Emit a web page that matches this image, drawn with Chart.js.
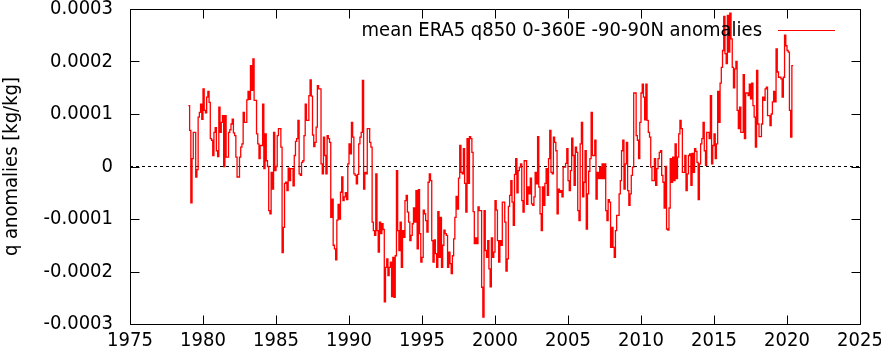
<!DOCTYPE html>
<html><head><meta charset="utf-8">
<script src="https://cdn.jsdelivr.net/npm/chart.js@4.4.0/dist/chart.umd.min.js"></script>
<style>html,body{margin:0;padding:0;background:#fff}#wrap{width:881px;height:354px;position:relative}</style>
</head><body><div id="wrap"><canvas id="c" width="881" height="354"></canvas></div>
<script>
// Monthly anomalies [kg/kg], one row per year, starting January 1979
const startYear = 1979;
const anom1979to1987 = [
 1.16e-4,1.16e-4,0.69e-4,-0.69e-4,0.15e-4,0.65e-4,0.65e-4,-0.2e-4,-0.06e-4,0.94e-4,1.03e-4,1.19e-4,
 0.9e-4,1.48e-4,1.07e-4,1.02e-4,1.32e-4,1.43e-4,1.22e-4,0.53e-4,0.5e-4,0.21e-4,0.65e-4,0.74e-4,
 0.3e-4,0.19e-4,1.13e-4,0.65e-4,0.84e-4,0.97e-4,0.0,0.97e-4,0.18e-4,0.18e-4,0.65e-4,0.7e-4,
 0.81e-4,0.9e-4,0.64e-4,0.59e-4,0.18e-4,-0.2e-4,-0.2e-4,0.18e-4,0.37e-4,0.43e-4,1.03e-4,0.84e-4,
 0.84e-4,1.27e-4,1.43e-4,1.28e-4,1.92e-4,1.45e-4,2.05e-4,1.26e-4,1.26e-4,0.62e-4,0.43e-4,0.15e-4,
 0.4e-4,0.4e-4,1.19e-4,-0.04e-4,0.62e-4,0.11e-4,0.0,-0.84e-4,-0.9e-4,-0.11e-4,-0.43e-4,0.65e-4,
 -0.08e-4,0.0,0.59e-4,0.72e-4,0.72e-4,0.37e-4,-1.64e-4,-1.16e-4,-0.32e-4,-0.3e-4,-0.46e-4,-0.03e-4,
 -0.27e-4,-0.04e-4,-0.04e-4,-0.37e-4,0.21e-4,0.48e-4,0.53e-4,0.88e-4,-0.14e-4,-0.17e-4,0.08e-4,0.11e-4,
 0.59e-4,1.19e-4,0.88e-4,0.88e-4,1.35e-4,1.65e-4,1.34e-4,0.6e-4,0.38e-4,0.46e-4,0.75e-4,1.54e-4
];
const anom1988to1996 = [
 1.48e-4,1.48e-4,0.05e-4,-0.14e-4,0.56e-4,0.21e-4,-0.14e-4,0.59e-4,0.53e-4,0.46e-4,-0.97e-4,-0.62e-4,
 -1.5e-4,-1.57e-4,-1.78e-4,-1.02e-4,-0.72e-4,-1.0e-4,-0.49e-4,-0.2e-4,-0.65e-4,-0.58e-4,-0.5e-4,-0.63e-4,
 0.05e-4,0.43e-4,0.24e-4,0.84e-4,0.56e-4,-0.14e-4,-0.17e-4,-0.33e-4,-0.15e-4,0.43e-4,0.56e-4,0.65e-4,
 1.64e-4,-0.43e-4,-0.11e-4,-0.14e-4,0.72e-4,0.72e-4,0.46e-4,0.37e-4,-1.06e-4,-1.22e-4,-1.31e-4,-0.14e-4,
 -1.22e-4,-1.63e-4,-1.06e-4,-1.28e-4,-1.09e-4,-1.2e-4,-2.58e-4,-1.92e-4,-1.76e-4,-2.08e-4,-1.92e-4,-1.82e-4,
 -2.48e-4,-1.73e-4,-2.49e-4,-1.7e-4,-0.08e-4,-1.22e-4,-1.6e-4,-1.06e-4,-1.92e-4,-1.22e-4,-1.35e-4,-0.65e-4,
 -0.55e-4,-0.87e-4,-1.06e-4,-1.41e-4,-1.31e-4,-1.09e-4,-0.79e-4,-1.06e-4,-0.46e-4,-1.57e-4,-0.44e-4,-1.28e-4,
 -1.82e-4,-1.73e-4,-0.83e-4,-0.9e-4,-1.03e-4,-1.25e-4,-0.3e-4,-0.14e-4,-0.27e-4,-1.41e-4,-1.82e-4,-1.4e-4,
 -1.66e-4,-1.92e-4,-0.86e-4,-1.73e-4,-0.97e-4,-1.92e-4,-1.5e-4,-1.21e-4,-1.28e-4,-1.31e-4,-1.92e-4,-1.63e-4
];
const anom1997to2005 = [
 -1.85e-4,-2.04e-4,-1.7e-4,-1.38e-4,-0.97e-4,-0.57e-4,-0.81e-4,-0.22e-4,0.4e-4,-0.11e-4,-0.14e-4,0.34e-4,
 -0.32e-4,-0.87e-4,0.53e-4,-0.32e-4,0.57e-4,0.53e-4,0.27e-4,-0.86e-4,-1.47e-4,-1.36e-4,-1.47e-4,-0.77e-4,
 -0.84e-4,-0.84e-4,-2.3e-4,-2.87e-4,-0.84e-4,-1.6e-4,-1.73e-4,-1.41e-4,-1.95e-4,-2.29e-4,-1.36e-4,-1.73e-4,
 -1.63e-4,-0.65e-4,-0.83e-4,-1.41e-4,-1.82e-4,-1.41e-4,-1.5e-4,-0.68e-4,-0.68e-4,-1.06e-4,-1.99e-4,-1.76e-4,
 -0.76e-4,-0.55e-4,-0.27e-4,-0.68e-4,-1.12e-4,-0.15e-4,0.15e-4,-0.5e-4,-0.08e-4,-0.01e-4,0.05e-4,-0.65e-4,
 -0.87e-4,0.11e-4,0.11e-4,-0.72e-4,-0.39e-4,-0.52e-4,-0.22e-4,-0.71e-4,-0.74e-4,-0.58e-4,-0.11e-4,-0.33e-4,
 0.57e-4,-0.39e-4,-0.9e-4,-1.22e-4,-0.39e-4,-0.74e-4,-0.32e-4,-0.04e-4,-0.55e-4,0.15e-4,0.69e-4,-0.11e-4,
 -0.14e-4,0.56e-4,0.46e-4,0.3e-4,-0.9e-4,-0.43e-4,-0.49e-4,-0.46e-4,-0.58e-4,-0.01e-4,-0.01e-4,0.06e-4,
 0.34e-4,-0.27e-4,-0.46e-4,-0.08e-4,0.54e-4,0.21e-4,-0.36e-4,0.37e-4,0.27e-4,-0.84e-4,-1.03e-4,0.43e-4
];
const anom2006to2014 = [
 0.84e-4,-0.58e-4,-0.3e-4,0.3e-4,-1.19e-4,-0.52e-4,-0.09e-4,0.15e-4,1.03e-4,0.21e-4,0.21e-4,0.5e-4,
 -0.62e-4,-0.11e-4,-0.23e-4,-0.01e-4,-0.23e-4,0.05e-4,-0.23e-4,0.05e-4,-0.84e-4,-1.03e-4,-0.63e-4,-0.68e-4,
 -1.54e-4,-1.16e-4,-1.54e-4,-1.73e-4,-1.22e-4,-0.93e-4,-0.93e-4,-0.52e-4,-0.27e-4,0.3e-4,0.5e-4,-0.43e-4,
 0.05e-4,0.46e-4,-0.46e-4,-0.74e-4,-0.52e-4,-0.17e-4,-0.01e-4,1.4e-4,1.4e-4,0.59e-4,0.5e-4,0.15e-4,
 0.84e-4,1.4e-4,1.57e-4,1.32e-4,0.89e-4,1.57e-4,0.88e-4,0.65e-4,0.56e-4,-0.01e-4,-0.27e-4,-0.27e-4,
 0.15e-4,-0.36e-4,-0.04e-4,0.15e-4,0.27e-4,0.3e-4,-0.17e-4,-0.3e-4,-0.79e-4,0.0,-1.19e-4,-1.21e-4,
 -0.79e-4,0.15e-4,-0.3e-4,0.18e-4,-0.27e-4,0.43e-4,-0.23e-4,0.18e-4,0.62e-4,0.88e-4,0.72e-4,-0.11e-4,
 -0.11e-4,0.21e-4,-0.46e-4,-0.14e-4,0.21e-4,0.24e-4,-0.36e-4,0.25e-4,-0.11e-4,0.34e-4,0.29e-4,0.08e-4,
 -0.63e-4,0.05e-4,0.43e-4,0.53e-4,0.84e-4,0.3e-4,0.02e-4,0.65e-4,0.65e-4,0.53e-4,1.35e-4,0.05e-4
];
const anom2015to2020 = [
 0.4e-4,0.62e-4,0.15e-4,0.43e-4,1.43e-4,0.84e-4,1.59e-4,1.89e-4,2.21e-4,2.86e-4,2.15e-4,1.96e-4,
 2.88e-4,2.18e-4,2.92e-4,2.43e-4,1.89e-4,1.5e-4,1.86e-4,2.0e-4,1.07e-4,0.72e-4,1.13e-4,0.65e-4,
 0.65e-4,1.75e-4,0.53e-4,1.4e-4,1.4e-4,1.35e-4,1.57e-4,1.29e-4,1.59e-4,1.16e-4,0.94e-4,0.37e-4,
 1.83e-4,0.81e-4,0.57e-4,0.57e-4,0.81e-4,1.32e-4,1.26e-4,1.48e-4,1.51e-4,0.97e-4,0.97e-4,0.78e-4,
 1.0e-4,1.23e-4,1.43e-4,1.23e-4,2.24e-4,1.8e-4,1.7e-4,1.7e-4,1.67e-4,1.32e-4,1.7e-4,2.5e-4,
 2.3e-4,2.21e-4,2.18e-4,1.07e-4,0.56e-4,1.92e-4
];
const xTickLabels = [1975,1980,1985,1990,1995,2000,2005,2010,2015,2020,2025];
const yTickLabels = [-0.0003,-0.0002,-0.0001,0,0.0001,0.0002,0.0003];
const seriesLabel = 'mean ERA5 q850 0-360E -90-90N anomalies';
const yAxisTitle = 'q anomalies [kg/kg]';

const monthly = [].concat(anom1979to1987, anom1988to1996, anom1997to2005, anom2006to2014, anom2015to2020);
const points = monthly.map((v, i) => ({x: startYear + i / 12, y: v}));
const zeroLine = [{x: xTickLabels[0], y: 0}, {x: xTickLabels[xTickLabels.length - 1], y: 0}];

const FONT = "'DejaVu Sans Condensed', 'Liberation Sans', Arial, sans-serif";
Chart.defaults.color = '#000';
Chart.defaults.font.family = FONT;
Chart.defaults.font.size = 20;

const TICK = 9;
const framePlugin = {
  id: 'frame',
  afterDatasetsDraw(chart) {
    const {ctx, chartArea: a, scales: {x, y}} = chart;
    const L = Math.round(a.left) + 0.5, R = Math.round(a.right) + 0.5;
    const T = Math.round(a.top) + 0.5, B = Math.round(a.bottom) + 0.5;
    ctx.save();
    ctx.strokeStyle = '#000';
    ctx.lineWidth = 1;
    ctx.beginPath();
    ctx.rect(L, T, R - L, B - T);
    x.ticks.forEach(t => {
      const px = Math.round(x.getPixelForValue(t.value)) + 0.5;
      ctx.moveTo(px, B); ctx.lineTo(px, B - TICK);
      ctx.moveTo(px, T); ctx.lineTo(px, T + TICK);
    });
    y.ticks.forEach(t => {
      const py = Math.round(y.getPixelForValue(t.value)) + 0.5;
      ctx.moveTo(L, py); ctx.lineTo(L + TICK, py);
      ctx.moveTo(R, py); ctx.lineTo(R - TICK, py);
    });
    ctx.stroke();
    // key (gnuplot style: text then line sample, top right)
    const ds = chart.data.datasets[0];
    ctx.font = '20px ' + FONT;
    ctx.fillStyle = '#000';
    ctx.textAlign = 'right';
    ctx.textBaseline = 'alphabetic';
    ctx.fillText(ds.label, 762, 36);
    ctx.strokeStyle = ds.borderColor;
    ctx.beginPath();
    ctx.moveTo(778, 30.5); ctx.lineTo(835, 30.5);
    ctx.stroke();
    ctx.restore();
  }
};

new Chart(document.getElementById('c'), {
  type: 'line',
  data: {
    datasets: [
      {label: seriesLabel, data: points, borderColor: '#ff0000', borderWidth: 1.3,
       stepped: 'after', pointRadius: 0, fill: false, order: 1},
      {label: 'zero', data: zeroLine, borderColor: '#000', borderWidth: 1, borderDash: [3, 3],
       pointRadius: 0, fill: false, order: 2}
    ]
  },
  options: {
    responsive: false,
    animation: false,
    events: [],
    layout: {autoPadding: false, padding: {left: 0, right: 21, top: 9, bottom: 0}},
    plugins: {legend: {display: false}, title: {display: false}, tooltip: {enabled: false}},
    scales: {
      x: {
        type: 'linear', min: xTickLabels[0], max: xTickLabels[xTickLabels.length - 1],
        grid: {display: false, drawTicks: false},
        border: {display: false},
        afterBuildTicks: s => { s.ticks = xTickLabels.map(v => ({value: v})); },
        afterFit: s => { s.height = 30; s.paddingLeft = 0; s.paddingRight = 0; s.paddingTop = 0; s.paddingBottom = 0; },
        ticks: {padding: 5, maxRotation: 0, autoSkip: false, callback: v => String(v)}
      },
      y: {
        type: 'linear', min: yTickLabels[0], max: yTickLabels[yTickLabels.length - 1],
        grid: {display: false, drawTicks: false},
        border: {display: false},
        afterBuildTicks: s => { s.ticks = yTickLabels.map(v => ({value: v})); },
        afterFit: s => { s.width = 130; s.paddingTop = 0; s.paddingBottom = 0; s.paddingLeft = 0; s.paddingRight = 0; },
        title: {display: true, text: yAxisTitle, padding: {top: 0, bottom: 0}, font: {size: 20}},
        ticks: {padding: 17, autoSkip: false,
          callback: v => Math.abs(v) < 1e-12 ? '0' : Number(v).toFixed(4)}
      }
    }
  },
  plugins: [framePlugin]
});
</script></body></html>
